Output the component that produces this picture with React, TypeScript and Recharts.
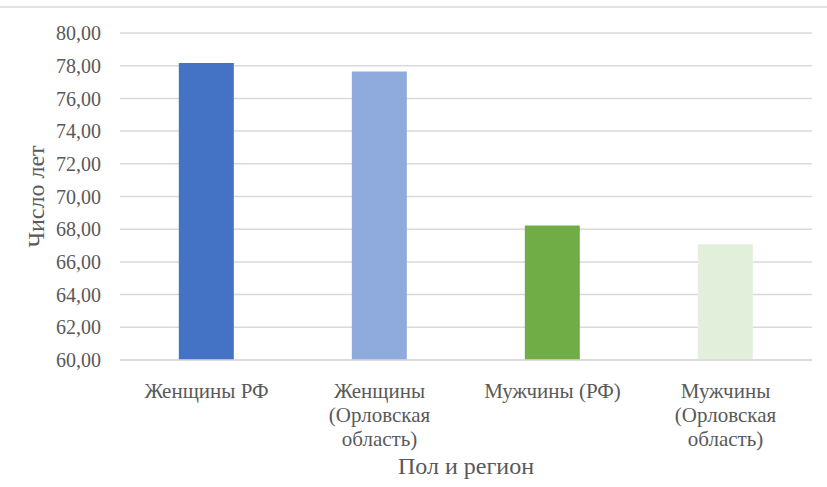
import React from 'react';
import { BarChart, Bar, XAxis, YAxis, CartesianGrid, Cell, Label } from 'recharts';

const categories = [
  ['Женщины РФ'],
  ['Женщины', '(Орловская', 'область)'],
  ['Мужчины (РФ)'],
  ['Мужчины', '(Орловская', 'область)'],
];
const values = [78.17, 77.65, 68.22, 67.08];
const yTicks = [60, 62, 64, 66, 68, 70, 72, 74, 76, 78, 80];

const barColors = ['#4472C4', '#8FAADC', '#70AD47', '#E2EFDA'];
const FONT = "'Liberation Serif', 'Times New Roman', 'DejaVu Serif', serif";
const TEXT = '#595959';

const data = categories.map((c, i) => ({ name: c.join(' '), idx: i, value: values[i] }));

const XTick = (props: any) => {
  const { x, y, index } = props;
  const lines = categories[index] || [];
  return (
    <text x={x} y={y + 30} textAnchor="middle" fill={TEXT} style={{ fontFamily: FONT, fontSize: 21 }}>
      {lines.map((l, i) => (
        <tspan key={i} x={x} dy={i === 0 ? 0 : 24}>{l}</tspan>
      ))}
    </text>
  );
};

export default function App() {
  return (
    <div style={{ position: 'absolute', left: 0, top: 0, width: 827, height: 487, background: '#fff', fontFamily: FONT }}>
      <div style={{ position: 'absolute', left: 0, top: 6, width: 827, height: 2, background: '#e3e3e3' }} />
      <BarChart
        width={827}
        height={487}
        data={data}
        margin={{ top: 33, right: 15, left: 0, bottom: 0 }}
        barCategoryGap="34%"
        style={{ fontFamily: FONT }}
      >
        <CartesianGrid vertical={false} stroke="#d9d9d9" strokeWidth={1.5} />
        <XAxis
          dataKey="name"
          height={127}
          tickLine={false}
          axisLine={{ stroke: '#d9d9d9', strokeWidth: 1.5 }}
          tick={<XTick />}
          interval={0}
        >
          <Label
            value="Пол и регион"
            position="insideBottom"
            offset={13}
            fill={TEXT}
            style={{ fontFamily: FONT, fontSize: 24 }}
          />
        </XAxis>
        <YAxis
          width={120}
          domain={[60, 80]}
          ticks={yTicks}
          allowDataOverflow
          tickLine={false}
          axisLine={false}
          tickSize={0}
          tickMargin={19}
          tickFormatter={(v: number) => v.toFixed(2).replace('.', ',')}
          tick={{ fill: TEXT, style: { fontFamily: FONT, fontSize: 20 } }}
        >
          <Label
            value="Число лет"
            angle={-90}
            position="center"
            dx={-25}
            fill={TEXT}
            style={{ fontFamily: FONT, fontSize: 24 }}
          />
        </YAxis>
        <Bar dataKey="value" isAnimationActive={false}>
          {data.map((d, i) => (
            <Cell key={i} fill={barColors[i]} />
          ))}
        </Bar>
      </BarChart>
    </div>
  );
}
